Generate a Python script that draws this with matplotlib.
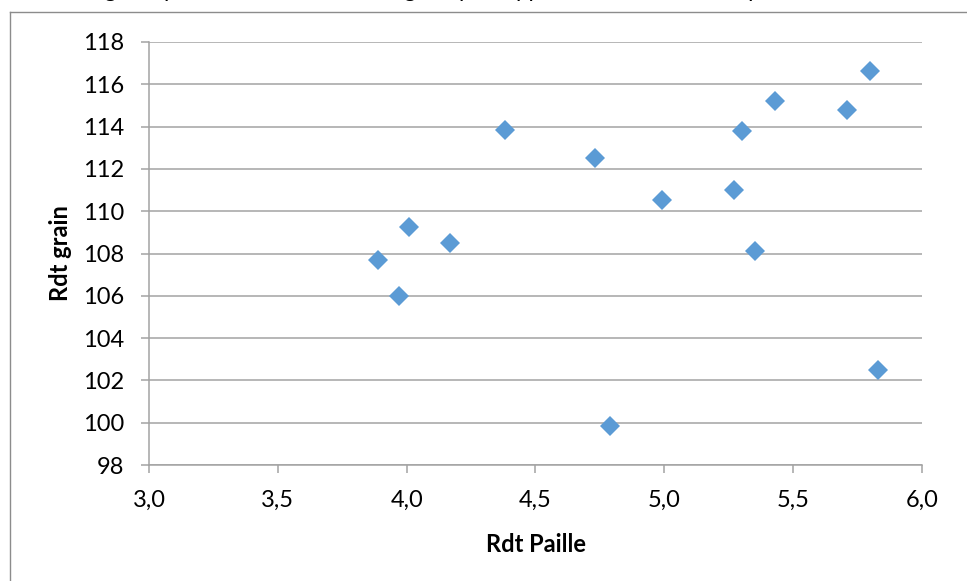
import matplotlib
matplotlib.use("Agg")
import matplotlib.pyplot as plt
from matplotlib.lines import Line2D
from matplotlib.ticker import FixedLocator, FuncFormatter

# rendement paille / rendement grain
rdt_paille = [3.89, 3.97, 4.01, 4.17, 4.38, 4.73, 4.79, 4.99,
              5.27, 5.30, 5.35, 5.43, 5.71, 5.80, 5.83]
rdt_grain = [107.68, 105.97, 109.25, 108.50, 113.83, 112.50, 99.84, 110.54,
             110.99, 113.77, 108.10, 115.21, 114.80, 116.65, 102.49]

x_ticks = [3.0, 3.5, 4.0, 4.5, 5.0, 5.5, 6.0]
y_ticks = [98, 100, 102, 104, 106, 108, 110, 112, 114, 116, 118]
caption = "Figure 5 : nuage de points du rendement en grain par rapport au rendement en paille"

W, H = 967, 581
GRID = "#a3a3a3"
plt.rcParams["font.family"] = ["Lato", "DejaVu Sans"]

fig = plt.figure(figsize=(W / 100, H / 100), dpi=100)
ax = fig.add_axes([149 / W, 1 - 465 / H, (922 - 149) / W, (465 - 42) / H])

ax.plot(rdt_paille, rdt_grain, linestyle="none", marker="D", markersize=10,
        markeredgewidth=0, color="#5b9bd5", zorder=3)

ax.set_xlim(3.0, 6.0)
ax.set_ylim(98, 118)
ax.xaxis.set_major_locator(FixedLocator(x_ticks))
ax.yaxis.set_major_locator(FixedLocator(y_ticks))
ax.xaxis.set_major_formatter(FuncFormatter(lambda v, _: f"{v:.1f}".replace(".", ",")))
ax.yaxis.set_major_formatter(FuncFormatter(lambda v, _: f"{v:.0f}"))
ax.grid(axis="y", color=GRID, linewidth=1.1)
ax.set_axisbelow(True)

for side in ("top", "right"):
    ax.spines[side].set_visible(False)
for side in ("left", "bottom"):
    ax.spines[side].set_color(GRID)
    ax.spines[side].set_linewidth(1.1)
ax.tick_params(direction="out", length=6, width=1.1, color=GRID,
               labelsize=17, pad=12, labelcolor="black")

ax.set_xlabel("Rdt Paille", fontsize=17, fontweight="bold", labelpad=16)
ax.set_ylabel("Rdt grain", fontsize=17, fontweight="bold", labelpad=8)

# outer chart frame, cropped on the right and bottom
fig.add_artist(Line2D([10 / W, 10 / W], [0, 1 - 12 / H], color="#8c8c8c", linewidth=1.0))
fig.add_artist(Line2D([10 / W, 1], [1 - 12 / H, 1 - 12 / H], color="#8c8c8c", linewidth=1.0))

# caption of the page above, mostly cut off at the top edge
fig.text(-0.03, 1 + 3 / H, caption, fontsize=16, va="baseline", ha="left")

fig.savefig("out.png", dpi=100)
